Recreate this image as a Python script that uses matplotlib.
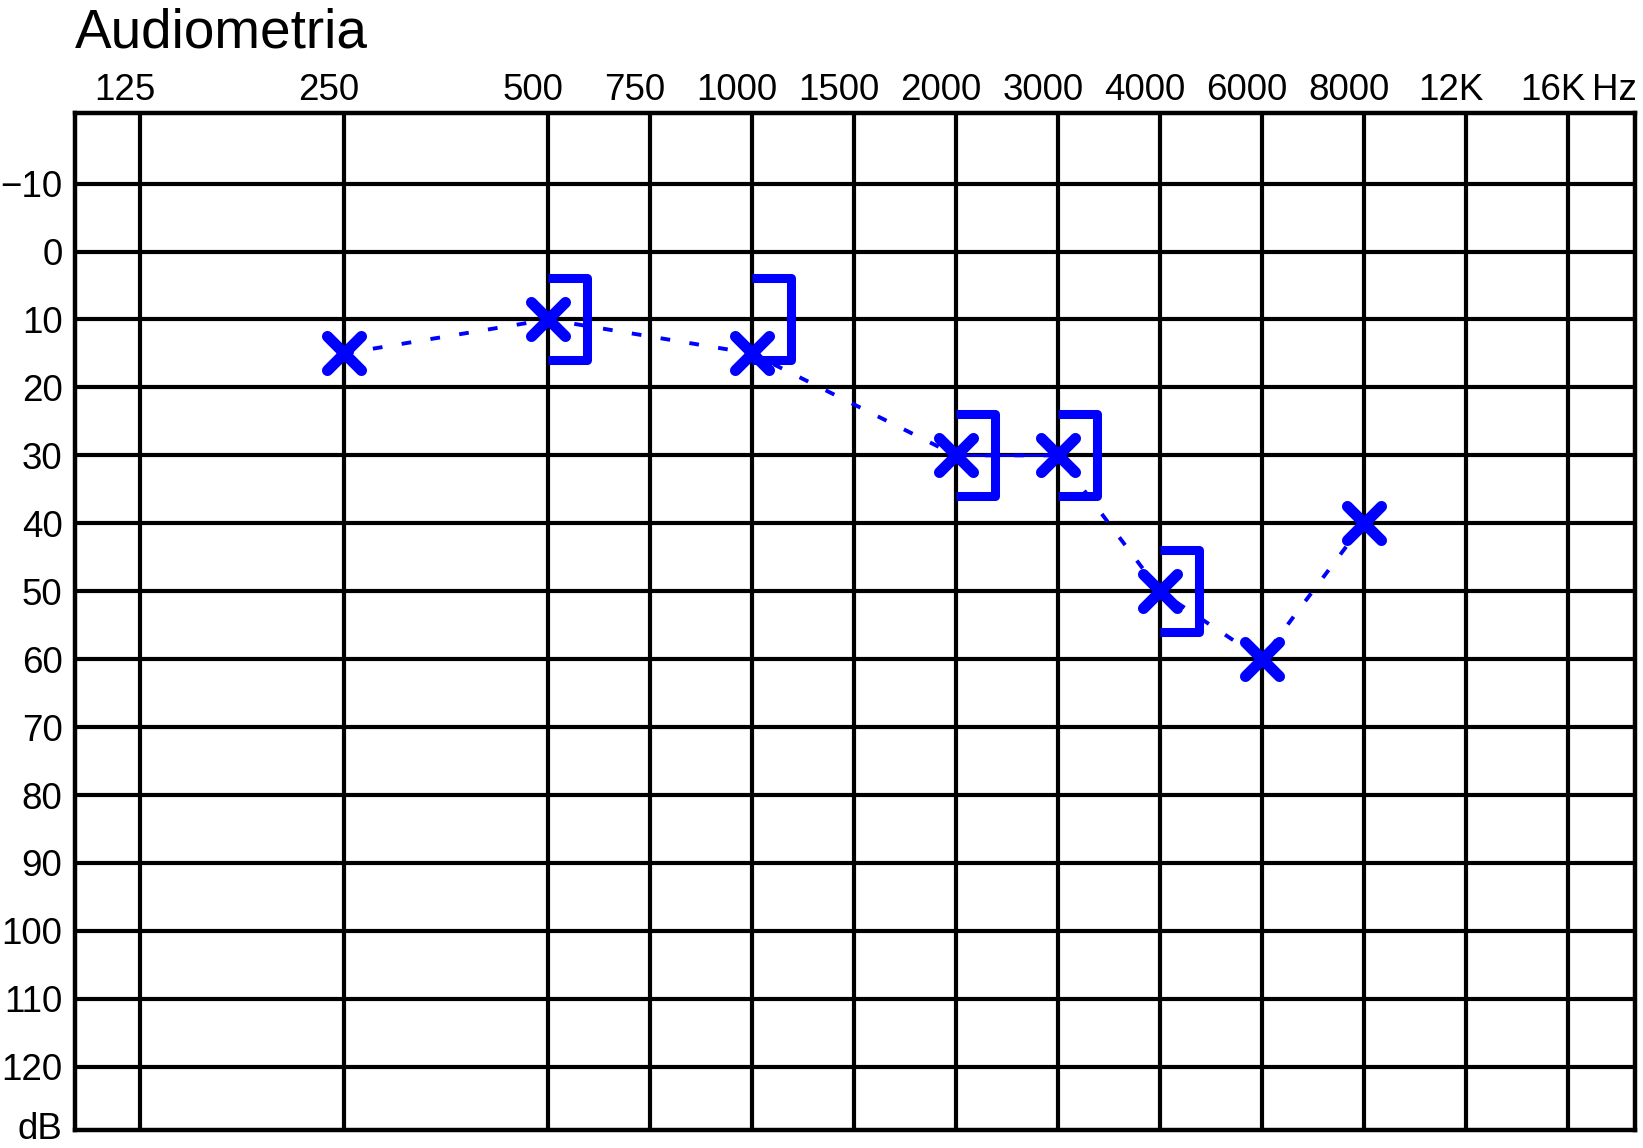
import numpy as np
import matplotlib
matplotlib.use("Agg")
import matplotlib.pyplot as plt
from matplotlib.path import Path
from matplotlib.markers import MarkerStyle
from matplotlib.transforms import ScaledTranslation

plt.rcParams['font.family'] = ['Liberation Sans', 'DejaVu Sans']

# ---- data ---------------------------------------------------------------
# audiogram frequency columns (Hz) and their labels
freq_ticks = [125, 250, 500, 750, 1000, 1500, 2000, 3000, 4000, 6000, 8000, 12000, 16000]
freq_labels = ['125', '250', '500', '750', '1000', '1500', '2000', '3000',
               '4000', '6000', '8000', '12K', '16K']
db_ticks = [-10, 0, 10, 20, 30, 40, 50, 60, 70, 80, 90, 100, 110, 120]
db_labels = ['\u221210', '0', '10', '20', '30', '40', '50', '60', '70', '80',
             '90', '100', '110', '120']

# air conduction thresholds (X)
air_freq = [250, 500, 1000, 2000, 3000, 4000, 6000, 8000]
air_db = [15, 10, 15, 30, 30, 50, 60, 40]

# masked bone conduction thresholds (])
bone_freq = [500, 1000, 2000, 3000, 4000]
bone_db = [10, 10, 30, 30, 50]

BLUE = '#0000ff'
LABEL_SIZE = 26.5


def audio_pos(f):
    # half-octave steps from 125 Hz, snapped onto the chart's columns
    return np.round(2 * np.log2(np.asarray(f, dtype=float) / 125.0))


# ---- figure -------------------------------------------------------------
fig = plt.figure(figsize=(16.43, 11.48), dpi=100)
ax = fig.add_axes([0.0456, 0.0157, 0.9495, 0.8859])

ax.set_xlim(-0.64, 14.66)
ax.set_ylim(129.3, -20.4)

ax.set_xticks(audio_pos(freq_ticks))
ax.set_xticklabels(freq_labels)
ax.xaxis.tick_top()
ax.tick_params(axis='x', length=0, pad=3.5, labelsize=LABEL_SIZE)
shift = ScaledTranslation(-15 / 100, 0, fig.dpi_scale_trans)
for lab in ax.get_xticklabels():
    lab.set_transform(lab.get_transform() + shift)

ax.set_yticks(db_ticks)
ax.set_yticklabels(db_labels)
ax.tick_params(axis='y', length=0, pad=9, labelsize=LABEL_SIZE)

ax.annotate('Hz', xy=(audio_pos(16000), 1), xycoords=ax.get_xaxis_transform(),
            xytext=(24 * 0.72, 3.5), textcoords='offset points',
            ha='left', va='bottom', fontsize=LABEL_SIZE)
ax.annotate('dB', xy=(0, 128.7), xycoords=('axes fraction', 'data'),
            xytext=(-9, 0), textcoords='offset points',
            ha='right', va='center_baseline', fontsize=LABEL_SIZE)

ax.grid(True, color='black', lw=3)
ax.set_axisbelow(True)
for sp in ax.spines.values():
    sp.set_linewidth(3.2)
    sp.set_color('black')

# ---- marks --------------------------------------------------------------
air_x = audio_pos(air_freq)
bone_x = audio_pos(bone_freq)

ax.plot(air_x, air_db, color=BLUE, lw=2.8, ls=(0, (2.5, 5)), zorder=3)
ax.plot(air_x[3:5], air_db[3:5], color=BLUE, lw=2.0, zorder=3)

xmark = MarkerStyle('x', capstyle='round')
ax.plot(air_x, air_db, ls='none', marker=xmark, ms=24.5, mew=8,
        color=BLUE, zorder=5)

bracket = Path([(0, 41), (39, 41), (39, -41), (0, -41)],
               [Path.MOVETO, Path.LINETO, Path.LINETO, Path.LINETO])
bmark = MarkerStyle(bracket, joinstyle='miter', capstyle='butt')
ax.plot(bone_x, bone_db, ls='none', marker=bmark, ms=59, mew=6.5,
        mfc='none', mec=BLUE, zorder=4)

fig.text(75 / 1643, 1 - 47 / 1148, 'Audiometria', fontsize=39.5,
         ha='left', va='baseline')

fig.savefig('out.png', dpi=100)
